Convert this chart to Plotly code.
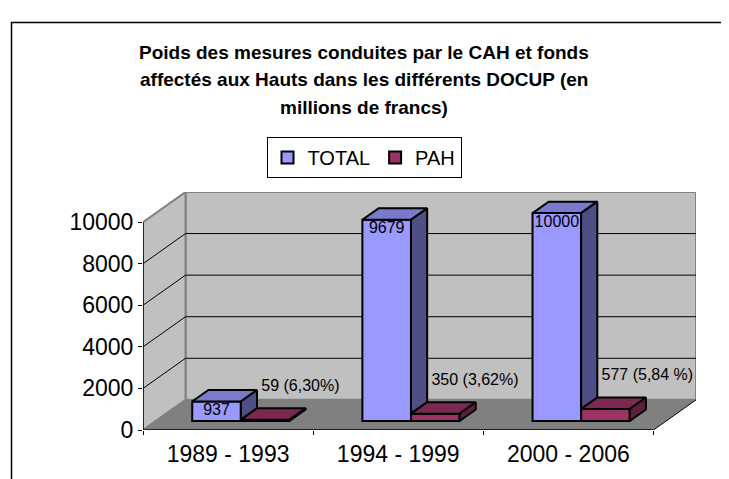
import plotly.graph_objects as go

# ---------------- data ----------------
categories = ["1989 - 1993", "1994 - 1999", "2000 - 2006"]
total = [937, 9679, 10000]
pah = [59, 350, 577]
total_labels = ["937", "9679", "10000"]
pah_labels = ["59 (6,30%)", "350 (3,62%)", "577 (5,84 %)"]
y_ticks = [0, 2000, 4000, 6000, 8000, 10000]
y_tick_labels = ["0", "2000", "4000", "6000", "8000", "10000"]
title_lines = [
    "Poids des mesures conduites par le CAH et fonds",
    "affectés aux Hauts dans les différents DOCUP (en",
    "millions de francs)",
]
series_names = ["TOTAL", "PAH"]

# ---------------- styling / geometry ----------------
FONT = "Liberation Sans, Arial, sans-serif"
PAGE_OFF = 8                      # browser default body margin
W_PX, H_PX = 729 - PAGE_OFF, 479 - PAGE_OFF
M_L, M_R, M_T, M_B = 143 - PAGE_OFF, 41 - PAGE_OFF, 192 - PAGE_OFF, 50 - PAGE_OFF
YMAX = 10000
DX = 0.25          # depth offset in x units (oblique projection)
DY = 1450          # depth offset in y units
X_RANGE = [0, len(categories) + DX]
Y_RANGE = [0, YMAX + DY]
F0, F1 = 0.30, 0.68  # bar depth span (fraction of total depth)
BW = 2 / 7           # bar width (category = 1)
UNITS_PER_PX = (Y_RANGE[1] - Y_RANGE[0]) / (H_PX - M_T - M_B)

C_FRONT = {"TOTAL": "#9999FF", "PAH": "#993366"}
C_TOP = {"TOTAL": "#7A7ACC", "PAH": "#7A2952"}
C_SIDE = {"TOTAL": "#4F4F85", "PAH": "#5C1F3D"}
WALL = "#C0C0C0"
FLOOR = "#808080"
EDGE = "#808080"

n = len(categories)
fig = go.Figure()


def depth(x, y, f):
    return x + f * DX, y + f * DY


# front faces (bars)
for s, vals in zip(series_names, [total, pah]):
    xs = []
    for i in range(n):
        c = i + 0.5 + F0 * DX
        xs.append(c - BW / 2 if s == "TOTAL" else c + BW / 2)
    fig.add_trace(go.Bar(
        name=s, x=xs, y=vals, base=[F0 * DY] * n, width=BW,
        marker=dict(color=C_FRONT[s], line=dict(color="black", width=2)),
        hovertext=categories, hoverinfo="text+y",
    ))


def faces(s, vals, lows, kind):
    xs, ys = [], []
    for i in range(n):
        c = i + 0.5
        x0, x1 = (c - BW, c) if s == "TOTAL" else (c, c + BW)
        v = vals[i]
        if kind == "top":
            pts = [depth(x0, v, F0), depth(x1, v, F0), depth(x1, v, F1), depth(x0, v, F1)]
        else:
            lo = lows[i]
            pts = [depth(x1, lo, F0), depth(x1, v, F0), depth(x1, v, F1), depth(x1, lo, F1)]
        pts.append(pts[0])
        xs += [p[0] for p in pts] + [None]
        ys += [p[1] for p in pts] + [None]
    return xs, ys


for s, vals, lows in [("TOTAL", total, pah), ("PAH", pah, [0] * n)]:
    for kind, col in [("top", C_TOP[s]), ("side", C_SIDE[s])]:
        xs, ys = faces(s, vals, lows, kind)
        fig.add_trace(go.Scatter(
            x=xs, y=ys, mode="lines", fill="toself", fillcolor=col,
            line=dict(color="black", width=2), showlegend=False, hoverinfo="skip",
        ))

# data labels
fig.add_trace(go.Scatter(
    x=[i + 0.5 + F0 * DX - BW / 2 for i in range(n)],
    y=[F0 * DY + v - 10 * UNITS_PER_PX for v in total],
    text=total_labels, mode="text", textposition="middle center",
    textfont=dict(family=FONT, size=16, color="black"),
    showlegend=False, hoverinfo="skip", cliponaxis=False,
))
fig.add_trace(go.Scatter(
    x=[i + 0.5 + F0 * DX + 0.12 for i in range(n)],
    y=[F0 * DY + v + 34 * UNITS_PER_PX for v in pah],
    text=pah_labels, mode="text", textposition="middle right",
    textfont=dict(family=FONT, size=16, color="black"),
    showlegend=False, hoverinfo="skip", cliponaxis=False,
))

# ---------------- walls / floor ----------------
shapes = []
shapes.append(dict(type="rect", layer="below", x0=DX, x1=n + DX, y0=DY, y1=YMAX + DY,
                   fillcolor=WALL, line=dict(color=EDGE, width=2)))
shapes.append(dict(type="path", layer="below",
                   path=f"M 0,0 L 0,{YMAX} L {DX},{YMAX + DY} L {DX},{DY} Z",
                   fillcolor=WALL, line=dict(color=EDGE, width=2)))
shapes.append(dict(type="path", layer="below",
                   path=f"M 0,0 L {n},0 L {n + DX},{DY} L {DX},{DY} Z",
                   fillcolor=FLOOR, line=dict(width=0)))
for v in y_ticks[1:-1]:
    shapes.append(dict(type="line", layer="below", x0=DX, x1=n + DX, y0=v + DY, y1=v + DY,
                       line=dict(color="black", width=1)))
    shapes.append(dict(type="line", layer="below", x0=0, x1=DX, y0=v, y1=v + DY,
                       line=dict(color="black", width=1)))
shapes.append(dict(type="line", layer="below", x0=n, x1=n + DX, y0=0, y1=DY,
                   line=dict(color="black", width=1)))
shapes.append(dict(type="line", layer="below", x0=0, x1=n, y0=0, y1=0,
                   line=dict(color="black", width=1.5)))
shapes.append(dict(type="line", layer="below", x0=0, x1=0, y0=0, y1=YMAX,
                   line=dict(color="black", width=1.5)))
# chart outer border
pw = W_PX - M_L - M_R
ph = H_PX - M_T - M_B
shapes.append(dict(type="rect", xref="paper", yref="paper",
                   x0=(11.5 - 143) / pw, x1=(740 - 143) / pw,
                   y0=(429 - 490) / ph, y1=(429 - 9.5) / ph,
                   line=dict(color="black", width=1.5), fillcolor="rgba(0,0,0,0)"))

# title lines
annotations = []
for k, line in enumerate(title_lines):
    py = 40 + k * 28.5
    annotations.append(dict(
        text=line, xref="paper", yref="paper",
        x=(364 - 143) / pw, y=(429 - py) / ph,
        xanchor="center", yanchor="middle", showarrow=False,
        font=dict(family=FONT, size=19, color="black", weight="bold"),
    ))

fig.update_layout(
    width=W_PX, height=H_PX, autosize=False,
    margin=dict(l=M_L, r=M_R, t=M_T, b=M_B, pad=0),
    paper_bgcolor="white", plot_bgcolor="white",
    barmode="overlay", shapes=shapes, annotations=annotations,
    font=dict(family=FONT, color="black"),
    xaxis=dict(range=X_RANGE, showgrid=False, zeroline=False, showline=False,
               tickmode="array", tickvals=[i + 0.5 for i in range(n)], ticktext=categories,
               ticks="", tickfont=dict(family=FONT, size=23, color="black"),
               ticklabelstandoff=8,
               minor=dict(tickmode="array", tickvals=list(range(n + 1)), ticks="outside",
                          ticklen=4, tickcolor="black", tickwidth=1, showgrid=False),
               fixedrange=True),
    yaxis=dict(range=Y_RANGE, showgrid=False, zeroline=False, showline=False,
               tickmode="array", tickvals=y_ticks, ticktext=y_tick_labels,
               ticks="outside", ticklen=4, tickcolor="black", tickwidth=1,
               tickfont=dict(family=FONT, size=23, color="black"), fixedrange=True),
    legend=dict(orientation="h", xref="container", yref="container",
                x=(364 - PAGE_OFF) / W_PX, xanchor="center",
                y=1 - (137 - PAGE_OFF) / H_PX, yanchor="top",
                bordercolor="black", borderwidth=1, bgcolor="white",
                font=dict(family=FONT, size=20, color="black"),
                itemwidth=30, tracegroupgap=0),
    showlegend=True,
)

fig.write_html("out.html")
